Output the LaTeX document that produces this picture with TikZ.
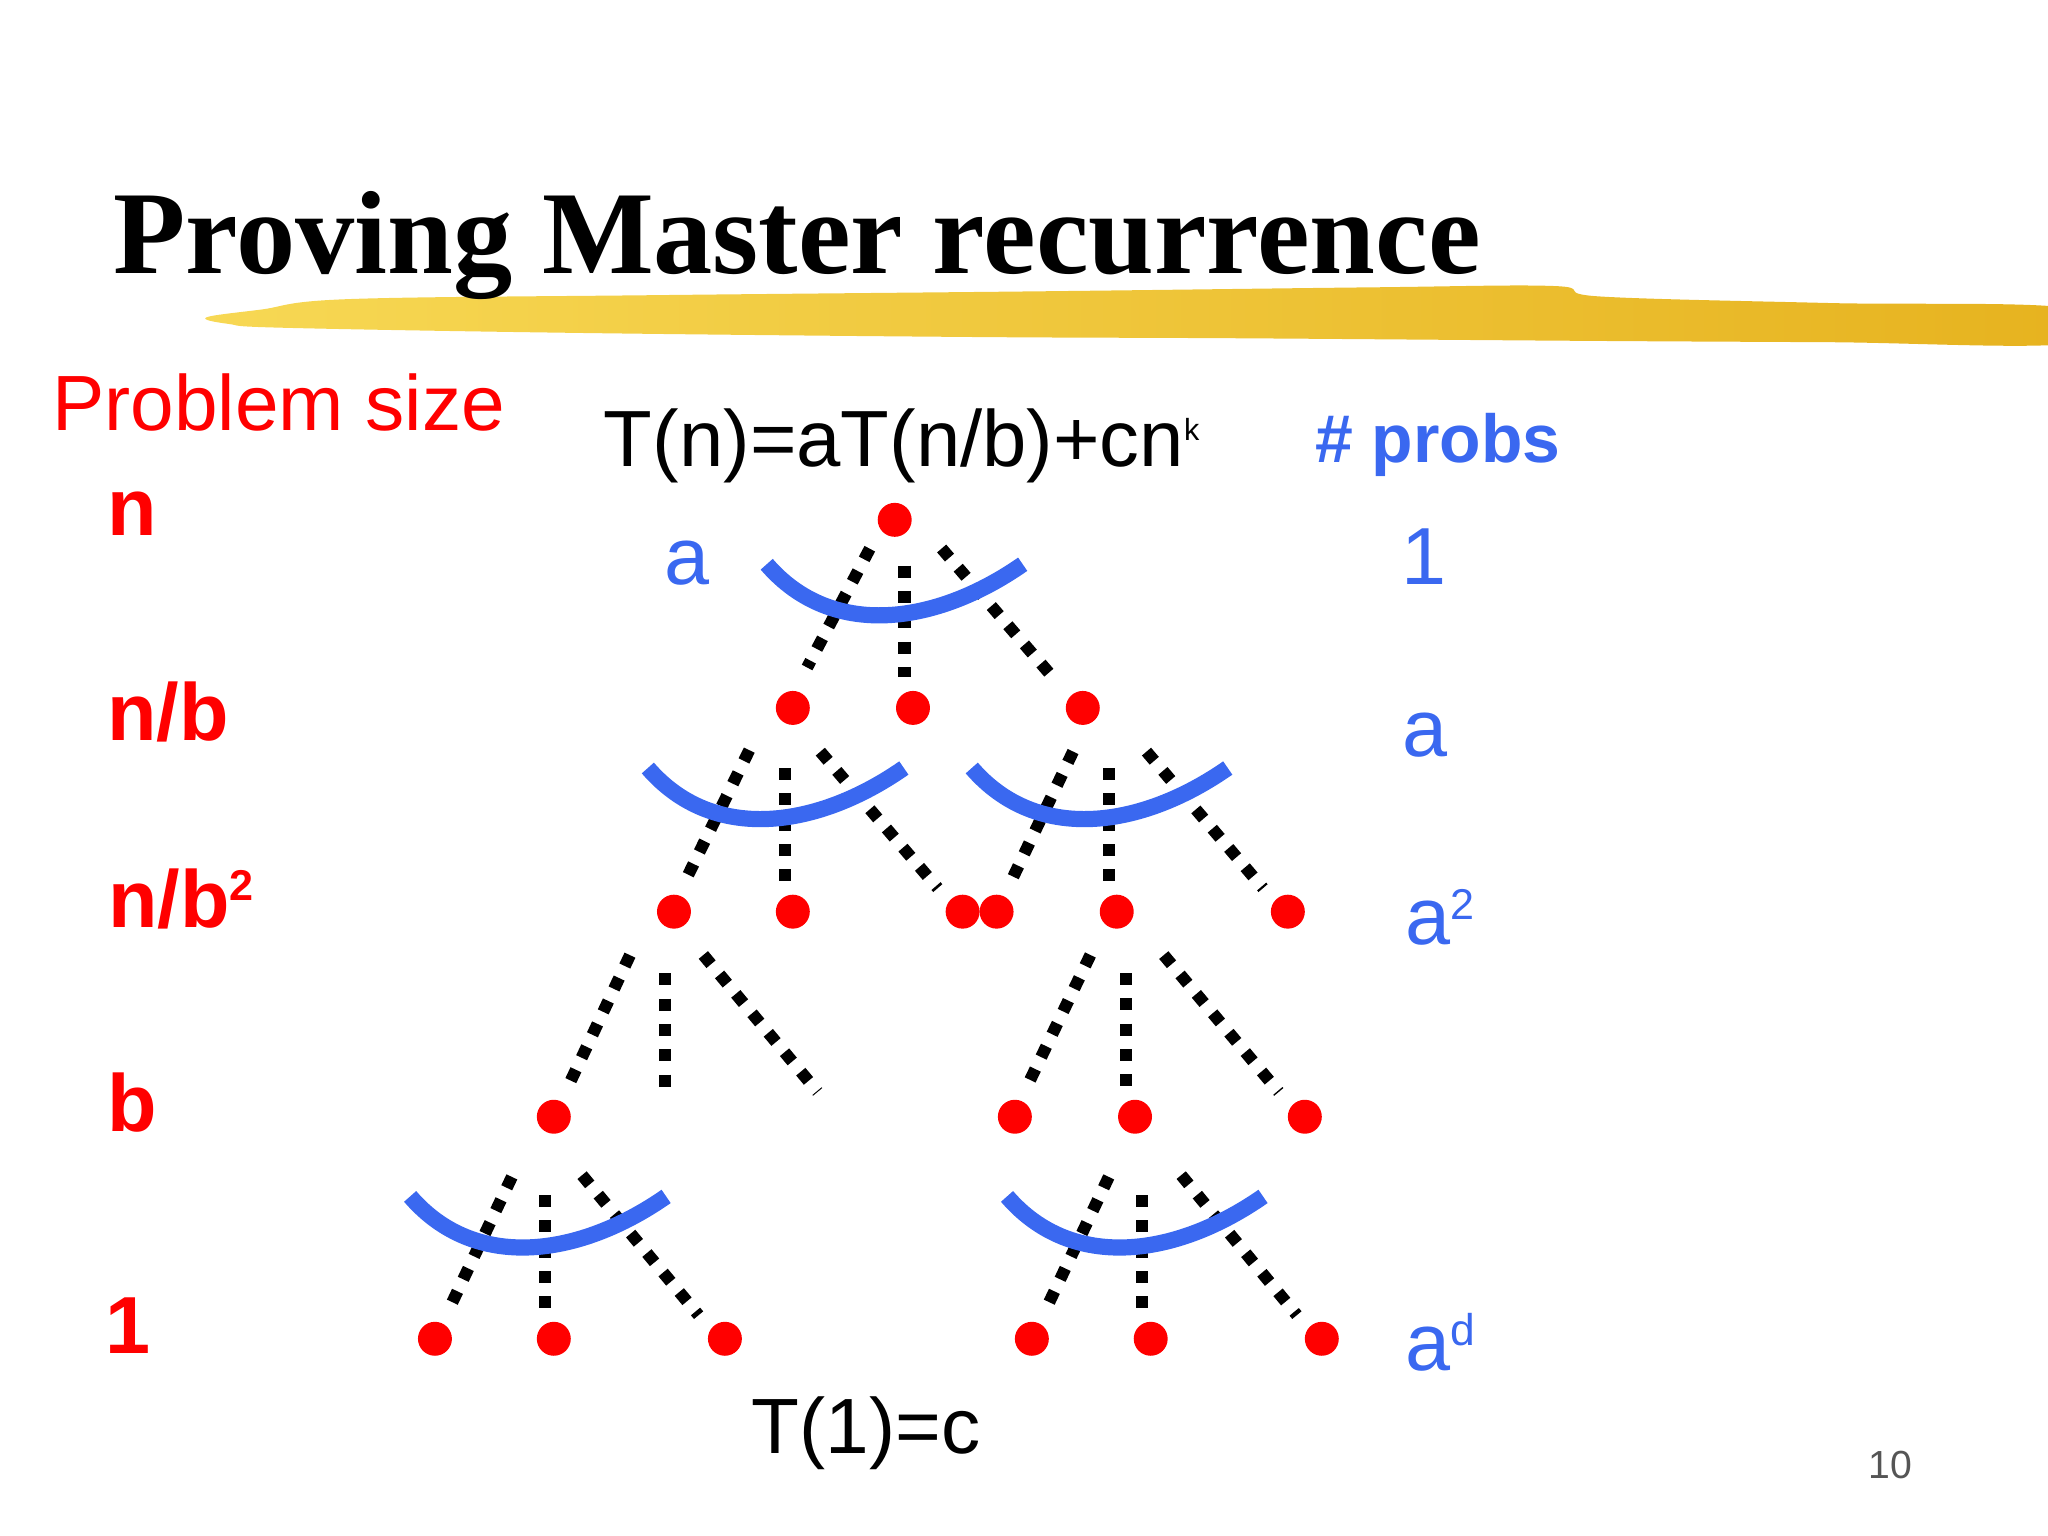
\documentclass[tikz,border=0pt]{standalone}
\usepackage{fontspec}
\setmainfont{Liberation Sans}
\newfontfamily\titlefont{Liberation Serif}
\definecolor{dotred}{RGB}{255,0,0}
\definecolor{myblue}{RGB}{58,104,240}
\definecolor{brushA}{RGB}{247,216,84}
\definecolor{brushB}{RGB}{240,198,48}
\definecolor{brushC}{RGB}{230,178,30}
\definecolor{pgnum}{RGB}{85,85,85}
\newcommand{\fsz}[1]{\fontsize{#1}{#1}\selectfont}
\tikzset{
  cup/.pic={\draw[cupline] (0,0) .. controls (50,58) and (130,46) .. (196,0);}
}
\begin{document}
\begin{tikzpicture}[x=0.5pt,y=-0.5pt,
  dot/.style={circle, fill=dotred, minimum size=13pt, inner sep=0pt, draw=none},
  dl/.style={line width=4.6pt, dash pattern=on 4.6pt off 5.1pt, line cap=butt, black},
  cupline/.style={line width=6.2pt, myblue, line cap=butt},
  txt/.style={anchor=base west, inner sep=0pt, outer sep=0pt}
]
\useasboundingbox (0,0) rectangle (1568,1176);

% brush stroke under the title
\shade[left color=brushA, middle color=brushB, right color=brushC]
  plot[smooth cycle, tension=0.6] coordinates {(158,243) (200,237) (267,229) (500,226) (800,223) (1050,220) (1190,219) (1225,227) (1400,232) (1585,236) (1585,263) (1400,262) (1218,261) (950,259) (742,258) (450,255) (219,251) (175,248)};

% title
\node[txt, font={\titlefont\bfseries\fsz{45.3pt}}] (title) at (87,209.3) {Proving Master recurrence};

% texts
\node[txt, font={\fsz{30pt}}, text=dotred] (ps) at (40,329.3) {Problem size};
\node[txt, font={\bfseries\fsz{31pt}}, text=dotred] (ln) at (82,409.8) {n};
\node[txt, font={\bfseries\fsz{31pt}}, text=dotred] (lnb) at (82,566.6) {n/b};
\node[txt, font={\bfseries\fsz{31pt}}, text=dotred] (lnbb) at (83,710.2) {n/b\raisebox{10.3pt}{\fsz{16.5pt}2}};
\node[txt, font={\bfseries\fsz{31pt}}, text=dotred] (lb) at (82,866.5) {b};
\node[txt, font={\bfseries\fsz{31pt}}, text=dotred] (lone) at (81,1036.2) {1};

\node[txt, font={\fsz{30.5pt}}] (rec) at (462.4,357) {T(n)=aT(n/b)+cn\raisebox{9.75pt}{\fsz{11.7pt}k}};
\node[txt, font={\bfseries\fsz{26pt}}, text=myblue] (probs) at (1007,354.4) {\# probs};

\node[txt, font={\fsz{31pt}}, text=myblue] (ba) at (509,447.6) {a};
\node[txt, font={\fsz{31pt}}, text=myblue] (pone) at (1073,447.6) {1};
\node[txt, font={\fsz{31pt}}, text=myblue] (pa) at (1074,578.9) {a};
\node[txt, font={\fsz{31pt}}, text=myblue] (paa) at (1076,723.5) {a\raisebox{9.85pt}{\fsz{16.5pt}2}};
\node[txt, font={\fsz{31pt}}, text=myblue] (pad) at (1076,1049) {a\raisebox{9.3pt}{\fsz{17pt}d}};

\node[txt, font={\fsz{30pt}}] (tone) at (575.6,1112.8) {T(1)=c};
\node[txt, font={\fsz{15pt}}, text=pgnum] (pg) at (1430.7,1131.7) {10};

% dots
\node[dot] (R) at (685,398) {};
\node[dot] (A1) at (607,542) {};
\node[dot] (A2) at (699,542) {};
\node[dot] (A3) at (829,542) {};
\node[dot] (B1) at (516,698) {};
\node[dot] (B2) at (607,698) {};
\node[dot] (B3) at (737,698) {};
\node[dot] (B4) at (763,698) {};
\node[dot] (B5) at (855,698) {};
\node[dot] (B6) at (986,698) {};
\node[dot] (C1) at (424,855) {};
\node[dot] (C2) at (777,855) {};
\node[dot] (C3) at (869,855) {};
\node[dot] (C4) at (999,855) {};
\node[dot] (D1) at (333,1025) {};
\node[dot] (D2) at (424,1025) {};
\node[dot] (D3) at (555,1025) {};
\node[dot] (D4) at (790,1025) {};
\node[dot] (D5) at (881,1025) {};
\node[dot] (D6) at (1012,1025) {};
\coordinate (C1m) at (509.4,855);
\coordinate (C1r) at (641.9,855);

% dotted edges
\draw[dl, shorten <=12.5pt, shorten >=17.5pt] ([xshift=-3.7pt]R.center) -- ([xshift=-2.7pt]A1.center);
\draw[dl, shorten <=17.5pt, shorten >=12pt] ([xshift=3.75pt]R.center) -- ([xshift=-3.25pt]A2.center);
\draw[dl, shorten <=14.5pt, shorten >=13.2pt] ([xshift=8.5pt]R.center) -- ([xshift=-1.35pt]A3.center);
\draw[dl, shorten <=18pt, shorten >=14.9pt] ([xshift=-8.75pt]A1.center) -- ([xshift=-1.45pt]B1.center);
\draw[dl, shorten <=23pt, shorten >=11.5pt] ([xshift=-3pt]A1.center) -- ([xshift=-3pt]B2.center);
\draw[dl, shorten <=22.1pt, shorten >=11.9pt] ([xshift=-3.9pt]A1.center) -- ([xshift=-1.75pt]B3.center);
\draw[dl, shorten <=18.5pt, shorten >=14.8pt] ([xshift=4.25pt]A3.center) -- (B4.center);
\draw[dl, shorten <=23pt, shorten >=11.5pt] ([xshift=10pt]A3.center) -- ([xshift=-3pt]B5.center);
\draw[dl, shorten <=22pt, shorten >=11.85pt] ([xshift=10.1pt]A3.center) -- ([xshift=-1.8pt]B6.center);
\draw[dl, shorten <=18.4pt, shorten >=14.8pt] ([xshift=-9pt]B1.center) -- (C1.center);
\draw[dl, shorten <=23.6pt, shorten >=11.5pt] ([xshift=-3.3pt]B1.center) -- (C1m);
\draw[dl, shorten <=21.6pt, shorten >=12.4pt] ([xshift=-2.6pt]B1.center) -- (C1r);
\draw[dl, shorten <=18.4pt, shorten >=14.8pt] ([xshift=-2.1pt]B5.center) -- ([xshift=-0.95pt]C2.center);
\draw[dl, shorten <=23.5pt, shorten >=11.5pt] ([xshift=3.5pt]B5.center) -- ([xshift=-3.5pt]C3.center);
\draw[dl, shorten <=21.7pt, shorten >=12.4pt] ([xshift=4.05pt]B5.center) -- ([xshift=-2pt]C4.center);
\draw[dl, shorten <=25.5pt, shorten >=14.3pt] ([xshift=-5.1pt]C1.center) -- (D1.center);
\draw[dl, shorten <=30pt, shorten >=11.6pt] ([xshift=-3.25pt]C1.center) -- ([xshift=-3.25pt]D2.center);
\draw[dl, shorten <=29.1pt, shorten >=11.75pt] ([xshift=-7.8pt]C1.center) -- ([xshift=-2.55pt]D3.center);
\draw[dl, shorten <=25.5pt, shorten >=14.3pt] ([xshift=0.9pt]C3.center) -- (D4.center);
\draw[dl, shorten <=30pt, shorten >=11.6pt] ([xshift=2.85pt]C3.center) -- ([xshift=-3.15pt]D5.center);
\draw[dl, shorten <=29pt, shorten >=11.75pt] ([xshift=-0.8pt]C3.center) -- ([xshift=-2.05pt]D6.center);

% blue cups
\pic at (587,432) {cup};
\pic at (496,588) {cup};
\pic at (744,588) {cup};
\pic at (314,916) {cup};
\pic at (771,916) {cup};
\end{tikzpicture}
\end{document}
